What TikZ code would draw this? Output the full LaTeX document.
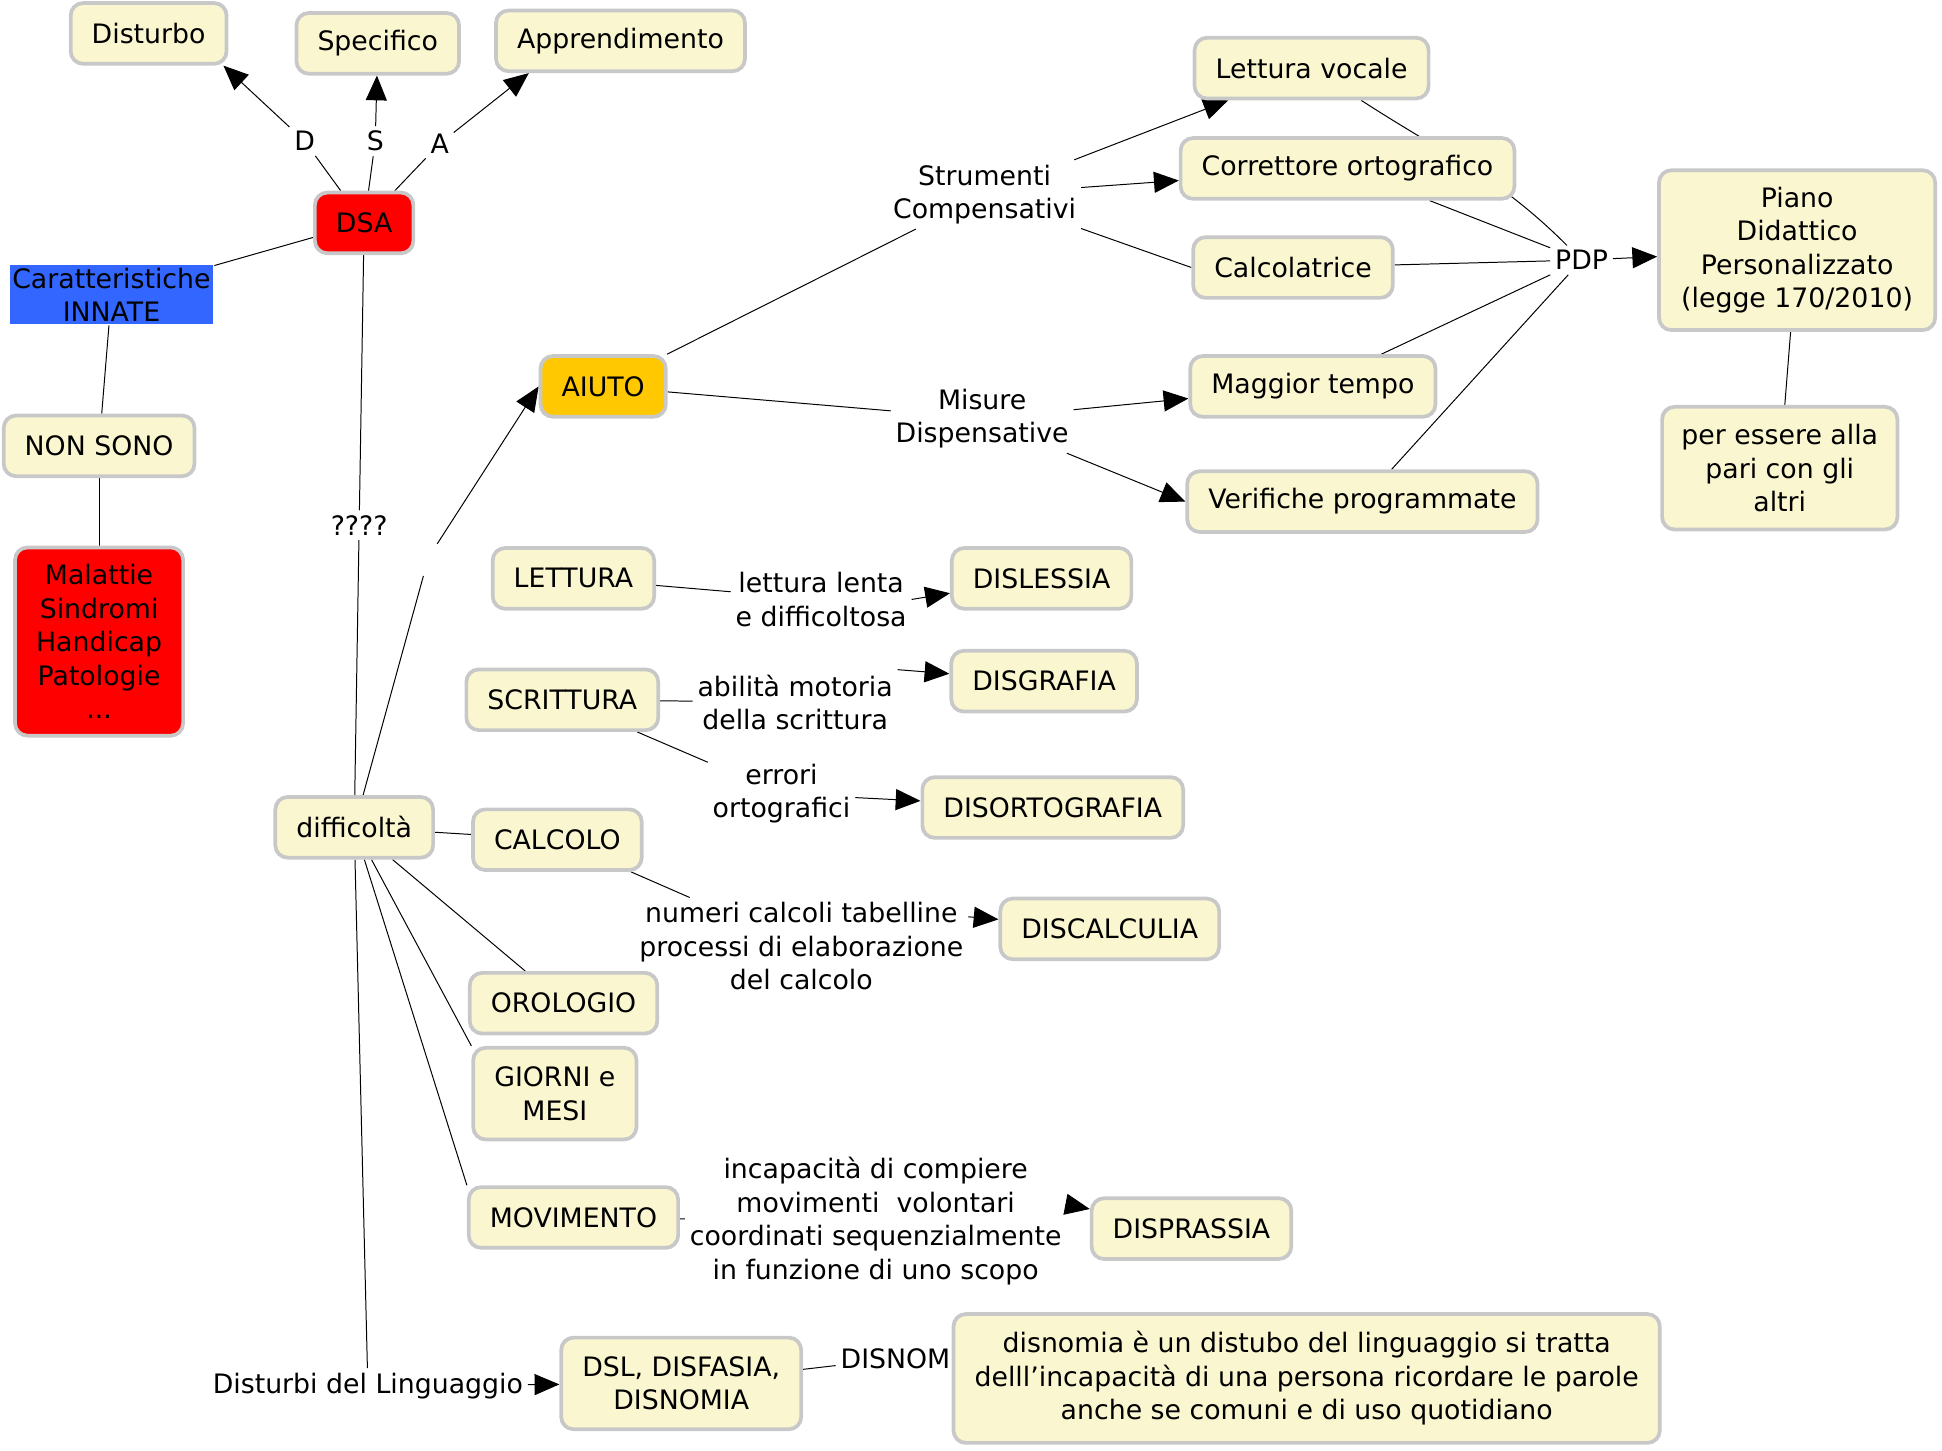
\documentclass[tikz,border=0pt]{standalone}
\usepackage{fontspec}
\setmainfont{DejaVu Sans}
\usetikzlibrary{arrows.meta, backgrounds}

\definecolor{crema}{RGB}{250,246,208}
\definecolor{bordo}{RGB}{200,200,200}
\definecolor{rosso}{RGB}{255,0,0}
\definecolor{blu}{RGB}{51,102,255}
\definecolor{giallo}{RGB}{255,200,0}

\begin{document}
\begin{tikzpicture}[x=0.5pt, y=-0.5pt, line width=1pt,
    every node/.style={font=\fontsize{10.8}{13.5}\selectfont, align=center},
    concept/.style={draw=bordo, line width=1.5pt, fill=crema, rounded corners=5pt,
        inner xsep=8.5pt, inner ysep=3pt, minimum height=24.5pt},
    link/.style={inner sep=1.5pt},
    freccia/.style={-{Triangle[length=10pt, width=8.5pt]}}]

    \useasboundingbox (0,0) rectangle (1568,1171);

    % Draw the DSA part
    \node[concept] (disturbo) at (120,27) {Disturbo};
    \node[concept] (specifico) at (305,35) {Specifico};
    \node[concept] (apprendimento) at (501,33) {Apprendimento};
    \node[concept, fill=rosso] (dsa) at (294,180) {DSA};
    \node[fill=blu, inner sep=1pt, minimum width=81.5pt, minimum height=23.5pt] (innate) at (90,238) {Caratteristiche\\INNATE};
    \node[concept] (nonsono) at (80,360) {NON SONO};
    \node[concept, fill=rosso, minimum width=65.5pt, minimum height=76pt] (malattie) at (80,518) {Malattie\\Sindromi\\Handicap\\Patologie\\...};

    \node[link] (d) at (246,114) {D};
    \node[link] (s) at (303,114) {S};
    \node[link] (a) at (355,116) {A};
    \node[link] (domande) at (290,424) {????};

    % Draw the help part
    \node[concept, fill=giallo] (aiuto) at (487,312) {AIUTO};
    \node[link, minimum width=6pt, minimum height=14pt] (vuoto) at (346,450) {};
    \node[link] (strumenti) at (795,157) {Strumenti\\Compensativi};
    \node[link] (misure) at (793,338) {Misure\\Dispensative};

    \node[concept] (vocale) at (1059,55) {Lettura vocale};
    \node[concept] (correttore) at (1088,136) {Correttore ortografico};
    \node[concept] (calcolatrice) at (1044,216) {Calcolatrice};
    \node[concept] (tempo) at (1060,312) {Maggior tempo};
    \node[concept] (verifiche) at (1100,405) {Verifiche programmate};

    \node[link] (pdp) at (1277,210) {PDP};
    \node[concept, minimum width=111.5pt, minimum height=64.5pt] (piano) at (1451,202) {Piano\\Didattico\\Personalizzato\\(legge 170/2010)};
    \node[concept, inner xsep=5pt, minimum width=95pt, minimum height=49.5pt] (pari) at (1437,378) {per essere alla\\pari con gli\\altri};

    % Draw the difficulties
    \node[concept] (difficolta) at (286,668) {difficoltà};

    \node[concept] (lettura) at (463,467) {LETTURA};
    \node[link] (lenta) at (663,484) {lettura lenta\\e difficoltosa};
    \node[concept] (dislessia) at (841,467) {DISLESSIA};

    \node[concept] (scrittura) at (454,565) {SCRITTURA};
    \node[link] (abilita) at (642,567) {abilità motoria\\della scrittura};
    \node[concept] (disgrafia) at (843,550) {DISGRAFIA};
    \node[link] (errori) at (631,641) {errori\\ortografici};
    \node[concept] (disortografia) at (850,652) {DISORTOGRAFIA};

    \node[concept] (calcolo) at (450,678) {CALCOLO};
    \node[link] (numeri) at (647,764) {numeri calcoli tabelline\\processi di elaborazione\\del calcolo};
    \node[concept] (discalculia) at (896,750) {DISCALCULIA};

    \node[concept] (orologio) at (455,810) {OROLOGIO};
    \node[concept, minimum height=37pt] (giorni) at (448,883) {GIORNI e\\MESI};

    \node[concept] (movimento) at (463,983) {MOVIMENTO};
    \node[link] (incapacita) at (707,986) {incapacità di compiere\\movimenti \ volontari\\coordinati sequenzialmente\\in funzione di uno scopo};
    \node[concept] (disprassia) at (962,992) {DISPRASSIA};

    \node[link] (linguaggio) at (297,1119) {Disturbi del Linguaggio};
    \node[concept, minimum height=37pt] (dsl) at (550,1117) {DSL, DISFASIA,\\DISNOMIA};
    \node[link] (disnom) at (723,1097) {DISNOM};
    \node[concept, minimum width=284.5pt, minimum height=52pt] (disnomia) at (1055,1113) {disnomia è un distubo del linguaggio si tratta\\delll’incapacità di una persona ricordare le parole\\anche se comuni e di uso quotidiano};

    % Draw the connections behind the boxes
    \begin{pgfonlayer}{background}
        \draw (dsa) -- (d);
        \draw[freccia] (d) -- ([xshift=-2pt]disturbo.south east);
        \draw (dsa) -- (s);
        \draw[freccia] (s) -- (specifico);
        \draw (dsa) -- (a);
        \draw[freccia] (a) -- ([xshift=14pt]apprendimento.south west);
        \draw (dsa) -- (innate);
        \draw (innate) -- (nonsono);
        \draw (nonsono) -- (malattie);
        \draw (dsa) -- (domande);
        \draw (domande) -- (difficolta);

        \draw (difficolta) -- (vuoto);
        \draw[freccia] (vuoto) -- (aiuto.west);
        \draw (aiuto) -- (strumenti);
        \draw[freccia] (strumenti) -- (vocale);
        \draw[freccia] (strumenti) -- (correttore);
        \draw (strumenti) -- (calcolatrice.west);
        \draw (aiuto) -- (misure);
        \draw[freccia] (misure) -- (tempo);
        \draw[freccia] (misure) -- (verifiche.west);

        \draw (vocale) to[out=-33, in=135] (pdp);
        \draw (correttore) -- (pdp);
        \draw (calcolatrice) -- (pdp);
        \draw (tempo) -- (pdp);
        \draw (verifiche) -- (pdp);
        \draw[freccia] (pdp) -- (piano);
        \draw (piano) -- (pari);

        \draw (lettura) -- (lenta);
        \draw[freccia] (lenta.east) -- (dislessia);
        \draw (scrittura) -- (abilita);
        \draw[freccia] (abilita.north east) -- (disgrafia);
        \draw (scrittura) -- (errori);
        \draw[freccia] (errori) -- (disortografia);
        \draw (difficolta) -- (calcolo);
        \draw (calcolo) -- (numeri);
        \draw[freccia] (numeri.10) -- (discalculia);
        \draw (difficolta) -- (orologio);
        \draw (difficolta) -- (giorni.north west);
        \draw (difficolta) -- (movimento.north west);
        \draw (movimento) -- (incapacita);
        \draw[freccia] (incapacita.5) -- (disprassia);
        \draw (difficolta) -- (linguaggio);
        \draw[freccia] (linguaggio) -- (dsl);
        \draw (dsl) -- (disnom);
    \end{pgfonlayer}

\end{tikzpicture}
\end{document}
